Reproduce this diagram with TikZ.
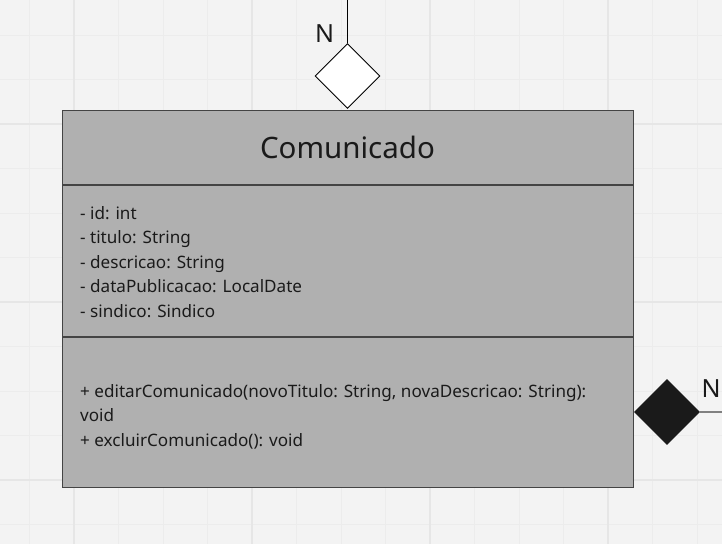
\documentclass[tikz,border=0pt]{standalone}
\usepackage{fontspec}
\setmainfont{Noto Sans}
\usetikzlibrary{shapes.geometric}
\definecolor{bgc}{HTML}{F3F3F3}
\definecolor{minorc}{HTML}{ECECEC}
\definecolor{majorc}{HTML}{E6E6E6}
\definecolor{boxfill}{HTML}{B0B0B0}
\definecolor{boxline}{HTML}{444444}
\definecolor{txt}{HTML}{1A1A1A}
\tikzset{
  attr/.style={anchor=base west, inner sep=0pt, font=\fontsize{17.1}{20}\selectfont, text=txt},
  card/.style={inner sep=0pt, font=\fontsize{25}{30}\selectfont, text=txt},
  diam/.style={diamond, aspect=1, minimum width=65pt, minimum height=65pt, inner sep=0pt, draw=black, line width=0.9pt},
}
\begin{document}
\begin{tikzpicture}[x=1pt,y=-1pt]
\useasboundingbox (0,0) rectangle (722,544);
\fill[bgc] (0,0) rectangle (722,544);
% minor grid
\foreach \i in {0,...,16} {
  \pgfmathsetmacro{\gx}{29.5+44.5*\i}
  \draw[minorc, line width=1pt] (\gx,0) -- (\gx,544);
}
\foreach \j in {0,...,12} {
  \pgfmathsetmacro{\gy}{35+44.5*\j}
  \draw[minorc, line width=1pt] (0,\gy) -- (722,\gy);
}
% major grid
\foreach \gx in {74,252,430,608} {
  \draw[majorc, line width=1.6pt] (\gx,0) -- (\gx,544);
}
\foreach \gy in {124,302,480} {
  \draw[majorc, line width=1.6pt] (0,\gy) -- (722,\gy);
}
% class box
\node[draw=boxline, fill=boxfill, line width=1.3pt, minimum width=571pt, minimum height=377pt, inner sep=0pt, anchor=north west] (cls) at (62,110) {};
\draw[boxline, line width=1.3pt] (62,185) -- (633,185);
\draw[boxline, line width=1.3pt] (62,337) -- (633,337);
\node[anchor=base, inner sep=0pt, font=\fontsize{29.5}{35}\selectfont, text=txt] (title) at (347.5,158) {Comunicado};
\node[attr] (a1) at (80,219) {- id: int};
\node[attr] (a2) at (80,243.5) {- titulo: String};
\node[attr] (a3) at (80,268) {- descricao: String};
\node[attr] (a4) at (80,292.5) {- dataPublicacao: LocalDate};
\node[attr] (a5) at (80,317) {- sindico: Sindico};
\node[attr] (m1) at (80,397) {+ editarComunicado(novoTitulo: String, novaDescricao: String):};
\node[attr] (m2) at (80,421.5) {void};
\node[attr] (m3) at (80,446) {+ excluirComunicado(): void};
% top aggregation
\node[diam, fill=white] (d1) at (347.5,76) {};
\coordinate (t1) at (347.5,0);
\draw[black, line width=0.9pt] (t1) -- (d1.north);
\node[card, anchor=base] (n1) at (324.5,42) {N};
% right composition
\node[diam, fill=txt, draw=txt] (d2) at (667,412) {};
\coordinate (t2) at (722,412);
\draw[gray, line width=1.3pt] (d2.east) -- (t2);
\node[card, anchor=base] (n2) at (711,397) {N};
\end{tikzpicture}
\end{document}
